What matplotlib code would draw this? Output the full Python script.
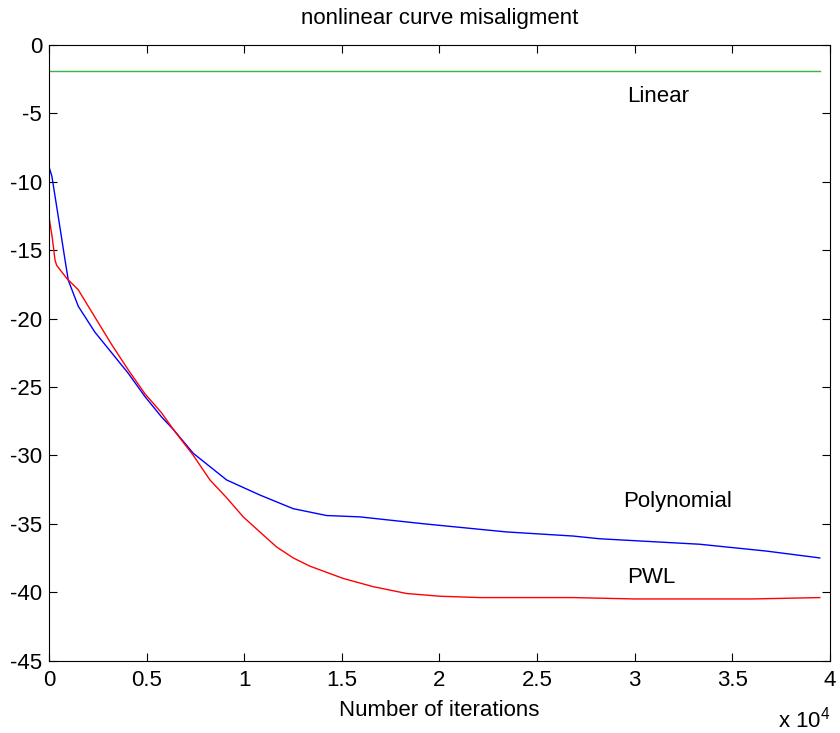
import matplotlib
matplotlib.use("Agg")
import matplotlib.pyplot as plt
from matplotlib.ticker import FuncFormatter

plt.rcParams['font.family'] = ['Liberation Sans', 'DejaVu Sans']
plt.rcParams['axes.unicode_minus'] = False
plt.rcParams['mathtext.fontset'] = 'custom'
plt.rcParams['mathtext.rm'] = 'Liberation Sans'

title = "nonlinear curve misaligment"
xlabel = "Number of iterations"

linear_x = [0, 39500]
linear_y = [-1.9, -1.9]

poly_x = [0, 150, 476, 820, 990, 1500, 2355, 3210, 4060, 4915, 5770, 6365, 7390,
          9100, 10800, 12510, 14220, 15925, 19165, 23435, 26845, 28210, 33330,
          36750, 39480]
poly_y = [-8.9, -9.6, -12.55, -15.7, -17.2, -19.1, -21.0, -22.5, -24.0, -25.7,
          -27.2, -28.1, -29.85, -31.8, -32.9, -33.9, -34.4, -34.5, -35.0, -35.6,
          -35.9, -36.1, -36.5, -37.0, -37.5]

pwl_x = [0, 170, 307, 390, 905, 1500, 2355, 3210, 4060, 4915, 5770, 6365, 7390,
         8245, 9100, 9950, 10800, 11660, 12510, 13360, 15070, 16600, 18315, 20020,
         22070, 26845, 30000, 33000, 36000, 39480]
pwl_y = [-12.55, -14.1, -15.7, -16.1, -17.05, -17.9, -19.9, -21.9, -23.75, -25.5,
         -26.9, -28.1, -30.0, -31.8, -33.1, -34.5, -35.6, -36.7, -37.5, -38.1,
         -39.0, -39.6, -40.1, -40.3, -40.4, -40.4, -40.5, -40.5, -40.5, -40.4]

labels = ["Linear", "Polynomial", "PWL"]
label_x = [29600, 29400, 29600]
label_y = [-3.8, -33.4, -38.9]

xticks = [0, 5000, 10000, 15000, 20000, 25000, 30000, 35000, 40000]
yticks = [0, -5, -10, -15, -20, -25, -30, -35, -40, -45]

fig = plt.figure(figsize=(8.4, 7.33), dpi=100)
ax = fig.add_axes([0.0583, 0.0989, 0.9297, 0.8397])

ax.plot(linear_x, linear_y, color='#3cb043', lw=1.0)
ax.plot(poly_x, poly_y, color='blue', lw=1.0)
ax.plot(pwl_x, pwl_y, color='red', lw=1.0)

for t, x, y in zip(labels, label_x, label_y):
    ax.text(x, y, t, fontsize=16, ha='left', va='center')

ax.set_xlim(0, 40000)
ax.set_ylim(-45, 0)
ax.set_xticks(xticks)
ax.set_yticks(yticks)
ax.xaxis.set_major_formatter(FuncFormatter(lambda v, p: f"{v/1e4:g}"))
ax.tick_params(direction='in', top=True, right=True, length=6, labelsize=16)
ax.tick_params(axis='x', pad=7)
ax.tick_params(axis='y', pad=5)
ax.set_title(title, fontsize=16, pad=15)
ax.set_xlabel(xlabel, fontsize=16, labelpad=6)
fig.text(0.988, 0.008, r"x 10$^4$", fontsize=16, ha='right', va='baseline')

fig.savefig("out.png", dpi=100)
